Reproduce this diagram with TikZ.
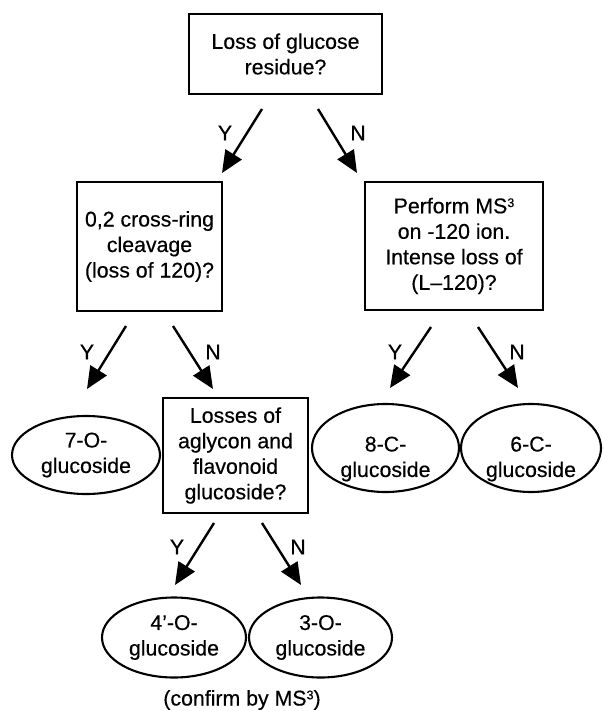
\documentclass[tikz,border=0pt]{standalone}
\usepackage{fontspec}
\setmainfont{Liberation Sans}
\newfontfamily\heavysans{Liberation Sans}[FakeBold=0.4,Ligatures=TeX]
\usetikzlibrary{arrows.meta,shapes.geometric}
\newcommand{\supthree}{\raisebox{6.2pt}{\fontsize{12.5}{12.5}\selectfont 3}}
\begin{document}
\begin{tikzpicture}[x=1pt,y=-1pt,
  font=\heavysans\fontsize{21.3}{25.5}\selectfont,
  qbox/.style={draw, line width=2.1pt, align=center, inner sep=0pt},
  leaf/.style={draw, ellipse, line width=2.1pt, align=center, inner sep=0pt},
  arr/.style={line width=2.4pt, -{Triangle[length=22pt,width=19pt]}},
  lbl/.style={inner sep=0pt, align=center}]
\useasboundingbox (0,0) rectangle (603,711);

% question boxes
\node[qbox, minimum width=193pt, minimum height=80pt] (top) at (285.5,54) {Loss of glucose\\residue?};
\node[qbox, minimum width=145pt, minimum height=129pt] (cross) at (149.5,246.5) {0,2 cross-ring\\cleavage\\(loss of 120)?};
\node[qbox, minimum width=178pt, minimum height=128pt] (ms3) at (454,246) {Perform MS\supthree\\on -120 ion.\\Intense loss of\\(L–120)?};
\node[qbox, minimum width=145pt, minimum height=115pt] (agly) at (235.5,455.5) {Losses of\\aglycon and\\flavonoid\\glucoside?};

% outcome ellipses
\node[leaf, minimum width=148pt, minimum height=78pt] (o7) at (86,455) {7-O-\\glucoside};
\node[leaf, minimum width=147pt, minimum height=88pt] (c8) at (385.5,448) {};
\node[lbl] (c8t) at (385.5,459) {8-C-\\glucoside};
\node[leaf, minimum width=140pt, minimum height=88pt] (c6) at (531,448) {};
\node[lbl] (c6t) at (531,459) {6-C-\\glucoside};
\node[leaf, minimum width=144pt, minimum height=80pt] (o4) at (174,637.5) {4’-O-\\glucoside};
\node[leaf, minimum width=143pt, minimum height=80pt] (o3) at (320.5,637.5) {3-O-\\glucoside};

\node[lbl] (confirm) at (242,700) {(confirm by MS\supthree)};

% arrow end points
\coordinate (t1) at (262,109); \coordinate (t1e) at (222,173);
\coordinate (t2) at (318,109); \coordinate (t2e) at (357,173);
\coordinate (l1) at (126,326); \coordinate (l1e) at (87,389);
\coordinate (l2) at (173,326); \coordinate (l2e) at (213,389);
\coordinate (r1) at (431,327); \coordinate (r1e) at (390,388);
\coordinate (r2) at (478,327); \coordinate (r2e) at (518,388);
\coordinate (m1) at (214,523); \coordinate (m1e) at (175,585);
\coordinate (m2) at (262,523); \coordinate (m2e) at (301,585);

\draw[arr] (t1) -- (t1e);
\draw[arr] (t2) -- (t2e);
\draw[arr] (l1) -- (l1e);
\draw[arr] (l2) -- (l2e);
\draw[arr] (r1) -- (r1e);
\draw[arr] (r2) -- (r2e);
\draw[arr] (m1) -- (m1e);
\draw[arr] (m2) -- (m2e);

% Y / N labels
\node[lbl] (ty) at (225,133) {Y};
\node[lbl] (tn) at (358,133) {N};
\node[lbl] (ly) at (87,352) {Y};
\node[lbl] (ln) at (213,352) {N};
\node[lbl] (ry) at (395,352) {Y};
\node[lbl] (rn) at (517,352) {N};
\node[lbl] (my) at (177,547) {Y};
\node[lbl] (mn) at (298,547) {N};
\end{tikzpicture}
\end{document}
